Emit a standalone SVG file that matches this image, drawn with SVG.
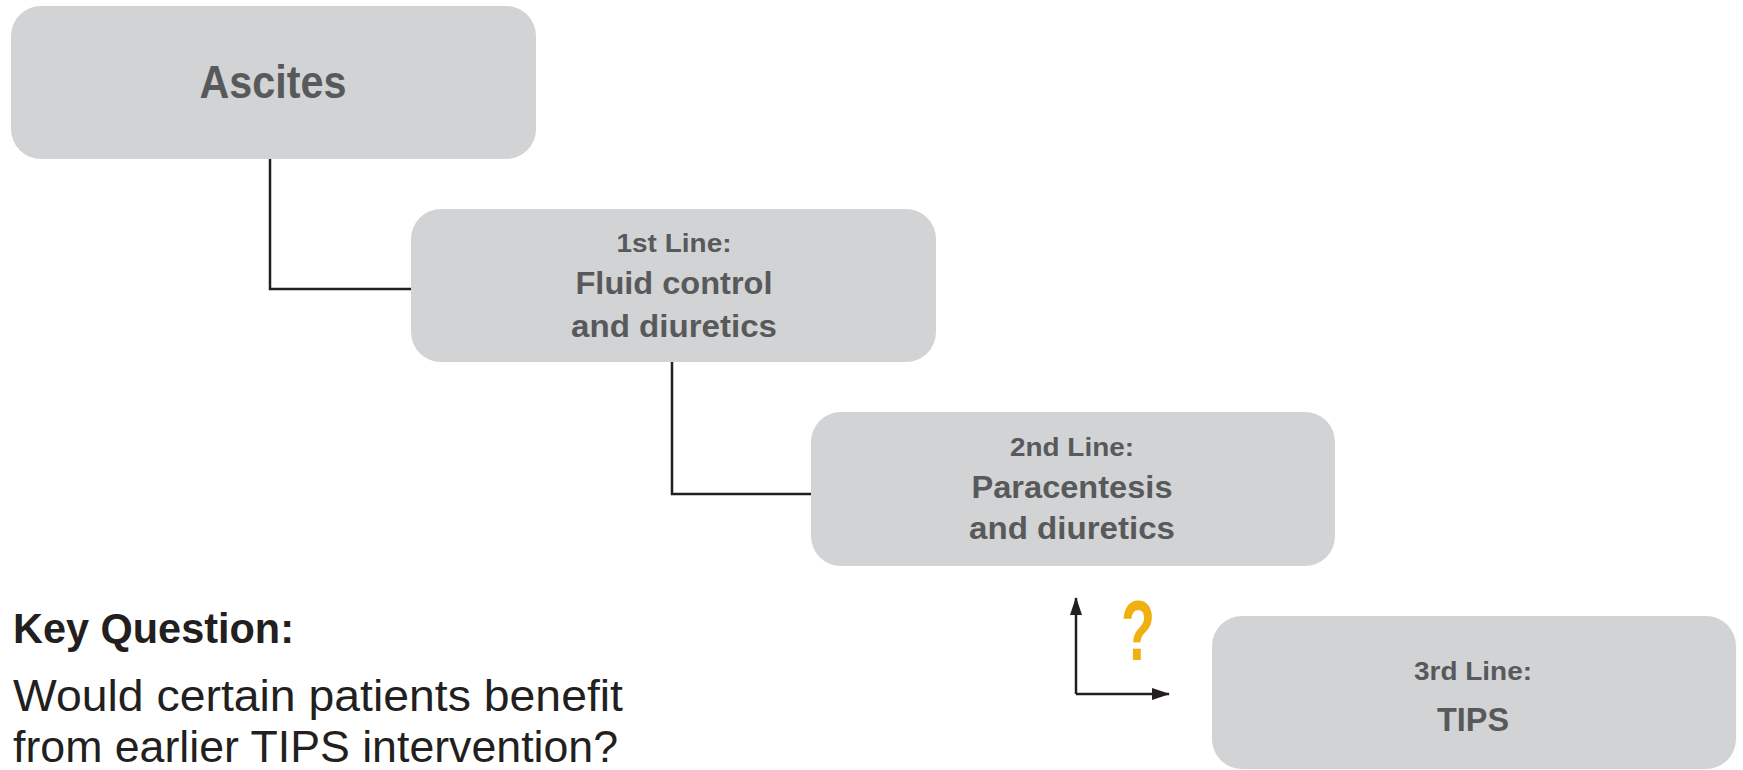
<svg xmlns="http://www.w3.org/2000/svg" width="1743" height="770" viewBox="0 0 1743 770">
<style>
.box{fill:#d1d3d4}
.t{font-family:"Liberation Sans",Arial,sans-serif;font-weight:700;fill:#58595b;text-anchor:middle}
.conn{fill:none;stroke:#231f20;stroke-width:2.5}
.kq{font-family:"Liberation Sans",Arial,sans-serif;fill:#231f20}
</style>
<defs>
<marker id="ah" viewBox="0 0 18 12" refX="17" refY="6" markerWidth="18" markerHeight="12" markerUnits="userSpaceOnUse" orient="auto">
<path d="M0,0 L18,6 L0,12 Z" fill="#231f20"/>
</marker>
</defs>
<rect width="1743" height="770" fill="#ffffff"/>
<g id="connectors">
<path class="conn" d="M270,159 V289 H411"/>
<path class="conn" d="M672,362 V494 H811"/>
<path class="conn" d="M1076,694 V598" marker-end="url(#ah)"/>
<path class="conn" d="M1076,694 H1169" marker-end="url(#ah)"/>
</g>
<g id="ascites">
<rect class="box" x="11" y="6" width="525" height="153" rx="30"/>
<text class="t" x="273" y="98" font-size="47" textLength="147" lengthAdjust="spacingAndGlyphs">Ascites</text>
</g>
<g id="line1">
<rect class="box" x="411" y="209" width="525" height="153" rx="30"/>
<text class="t" x="674" y="252" font-size="25" textLength="115" lengthAdjust="spacingAndGlyphs">1st Line:</text>
<text class="t" x="674" y="294" font-size="32" textLength="197" lengthAdjust="spacingAndGlyphs">Fluid control</text>
<text class="t" x="674" y="337" font-size="32" textLength="206" lengthAdjust="spacingAndGlyphs">and diuretics</text>
</g>
<g id="line2">
<rect class="box" x="811" y="412" width="524" height="154" rx="30"/>
<text class="t" x="1072" y="456" font-size="25" textLength="124" lengthAdjust="spacingAndGlyphs">2nd Line:</text>
<text class="t" x="1072" y="498" font-size="32" textLength="201" lengthAdjust="spacingAndGlyphs">Paracentesis</text>
<text class="t" x="1072" y="539" font-size="32" textLength="206" lengthAdjust="spacingAndGlyphs">and diuretics</text>
</g>
<g id="line3">
<rect class="box" x="1212" y="616" width="524" height="153" rx="30"/>
<text class="t" x="1473" y="680" font-size="25" textLength="118" lengthAdjust="spacingAndGlyphs">3rd Line:</text>
<text class="t" x="1473" y="731" font-size="34" textLength="72" lengthAdjust="spacingAndGlyphs">TIPS</text>
</g>
<g id="question-mark">
<text x="1138" y="660" font-family="Liberation Sans,Arial,sans-serif" font-weight="700" font-size="86" fill="#f0b110" text-anchor="middle" textLength="34" lengthAdjust="spacingAndGlyphs">?</text>
</g>
<g id="key-question">
<text class="kq" x="13" y="643" font-size="43" font-weight="700" textLength="281" lengthAdjust="spacingAndGlyphs">Key Question:</text>
<text class="kq" x="13" y="711" font-size="45" textLength="610" lengthAdjust="spacingAndGlyphs">Would certain patients benefit</text>
<text class="kq" x="13" y="762" font-size="45" textLength="605" lengthAdjust="spacingAndGlyphs">from earlier TIPS intervention?</text>
</g>
</svg>
